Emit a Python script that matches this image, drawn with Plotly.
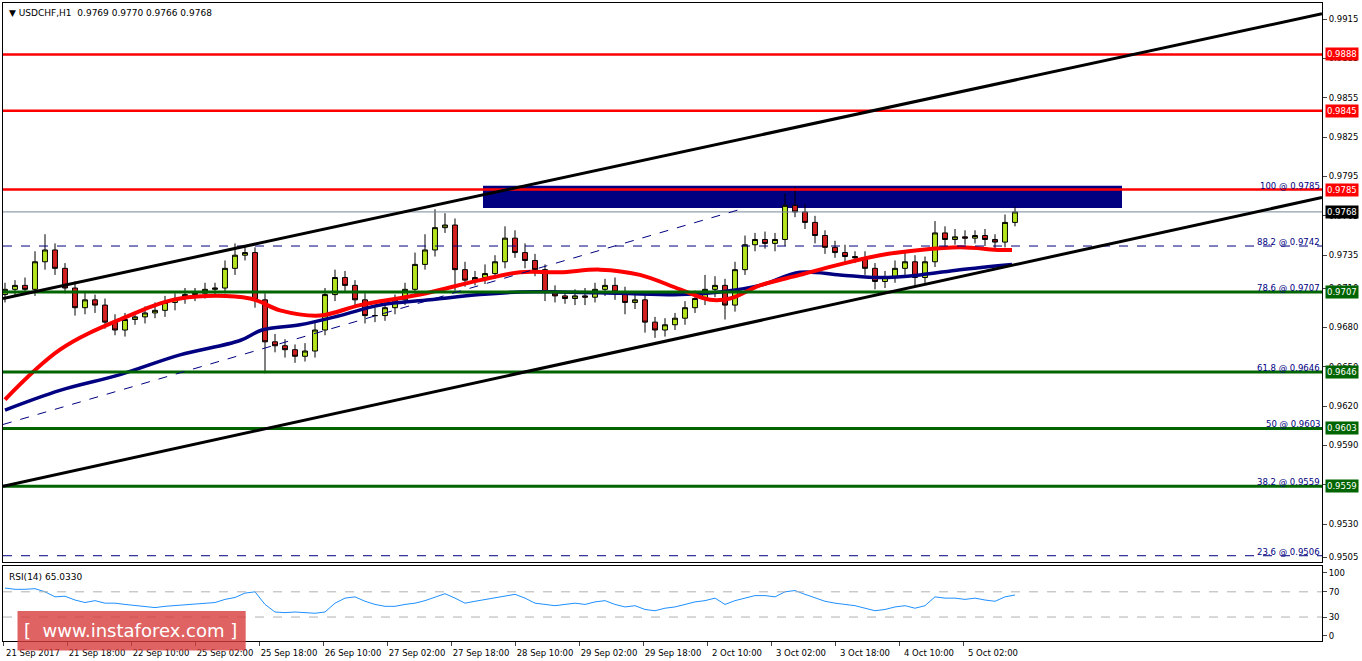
import plotly.graph_objects as go

# hourly USDCHF (one value every ~2.5 bars)
closes = [0.9709, 0.9712, 0.9709, 0.9730, 0.9739, 0.9725, 0.9710, 0.9695, 0.9701, 0.9697,
          0.9684, 0.9678, 0.9686, 0.9688, 0.9691, 0.9693, 0.9699, 0.9702, 0.9705, 0.9706,
          0.9709, 0.9710, 0.9725, 0.9735, 0.9737, 0.9701, 0.9669, 0.9666, 0.9663, 0.9658,
          0.9662, 0.9678, 0.9705, 0.9718, 0.9712, 0.9701, 0.9689, 0.9689, 0.9695, 0.9701,
          0.9709, 0.9728, 0.9739, 0.9756, 0.9758, 0.9724, 0.9716, 0.9718, 0.9721, 0.9730,
          0.9748, 0.9737, 0.9731, 0.9724, 0.9707, 0.9704, 0.9702, 0.9704, 0.9703, 0.9709,
          0.9712, 0.9707, 0.9699, 0.9701, 0.9684, 0.9678, 0.9682, 0.9687, 0.9695, 0.9702,
          0.9709, 0.9712, 0.9697, 0.9724, 0.9743, 0.9747, 0.9744, 0.9747, 0.9773, 0.9768,
          0.9760, 0.9750, 0.9741, 0.9737, 0.9734, 0.9733, 0.9725, 0.9715, 0.9718, 0.9725,
          0.9730, 0.9718, 0.9730, 0.9752, 0.9747, 0.9749, 0.9748, 0.9750, 0.9747, 0.9745,
          0.9760, 0.9768]
first_open = 0.9705
# wick sizes in pips above / below the body
wick_up = [5, 4, 6, 8, 12, 5, 4, 5, 6, 4, 5, 6, 5, 4, 5, 6, 5, 4, 5, 4,
           5, 4, 6, 9, 5, 4, 5, 6, 5, 4, 6, 7, 5, 6, 5, 4, 5, 6, 5, 4,
           5, 9, 12, 14, 9, 5, 6, 5, 7, 5, 9, 6, 7, 5, 4, 5, 4, 5, 6, 5,
           5, 6, 4, 5, 5, 4, 5, 4, 5, 6, 11, 7, 5, 6, 7, 5, 6, 5, 9, 14,
           6, 5, 4, 5, 6, 4, 5, 4, 5, 6, 7, 5, 4, 9, 5, 6, 5, 4, 5, 4,
           6, 4]
wick_dn = [6, 5, 4, 5, 6, 5, 4, 6, 5, 6, 5, 4, 5, 4, 5, 4, 5, 6, 4, 5,
           4, 5, 4, 5, 4, 6, 24, 5, 6, 5, 4, 5, 4, 5, 5, 5, 6, 5, 4, 5,
           4, 5, 4, 5, 4, 16, 5, 4, 5, 4, 5, 4, 6, 5, 7, 5, 4, 5, 6, 4,
           5, 6, 9, 5, 8, 6, 5, 4, 5, 4, 5, 6, 11, 5, 4, 5, 4, 6, 5, 4,
           5, 6, 5, 4, 5, 4, 5, 6, 5, 4, 5, 7, 5, 4, 5, 4, 5, 4, 5, 6,
           4, 3]

ma_fast_x = [0, 5.5, 11.5, 17.5, 24.5, 27.5, 31.5, 35.5, 41.5, 47.5, 51.5, 55.5, 59.5,
             63.5, 67.5, 70.5, 72.5, 75.5, 79.5, 83.5, 87.5, 91.5, 95.5, 99.5, 100.7]
ma_fast_y = [0.9625, 0.9663, 0.9686, 0.9702, 0.9702, 0.9693, 0.9689, 0.9697, 0.9705,
             0.9716, 0.9722, 0.9722, 0.9724, 0.9720, 0.9709, 0.9701, 0.9702, 0.9712,
             0.9720, 0.9728, 0.9735, 0.9739, 0.9741, 0.9739, 0.9739]
ma_slow_x = [0, 5.5, 11.5, 17.5, 23.5, 25.7, 29.5, 33.5, 37.5, 42.5, 47.5, 51.5, 55.5,
             61.5, 67.5, 71.5, 75.5, 79.5, 83.5, 87.5, 91.5, 95.5, 100.7]
ma_slow_y = [0.9617, 0.9632, 0.9644, 0.9659, 0.9670, 0.9678, 0.9682, 0.9689, 0.9697,
             0.9701, 0.9705, 0.9707, 0.9707, 0.9706, 0.9705, 0.9707, 0.9712, 0.9722,
             0.9720, 0.9718, 0.9720, 0.9724, 0.9728]

rsi = [76, 74, 74, 75, 70, 62, 63, 57, 53, 56, 52, 52, 50, 48, 46, 45, 47, 48, 49, 50,
       51, 53, 58, 61, 68, 70, 50, 38, 37, 38, 37, 36, 38, 52, 60, 62, 55, 50, 47, 47,
       50, 52, 56, 62, 67, 60, 52, 55, 58, 60, 64, 66, 60, 52, 50, 48, 50, 52, 50, 54,
       56, 50, 46, 48, 42, 40, 44, 46, 50, 54, 56, 60, 50, 56, 60, 64, 64, 62, 70, 72,
       66, 60, 55, 52, 50, 48, 44, 40, 42, 46, 48, 44, 48, 62, 60, 60, 58, 60, 57, 55,
       62, 65]

red_levels = [0.9888, 0.9845, 0.9785]
green_levels = [0.9707, 0.9646, 0.9603, 0.9559]
fib_labels = ["100 @ 0.9785", "88.2 @ 0.9742", "78.6 @ 0.9707", "61.8 @ 0.9646",
              "50 @ 0.9603", "38.2 @ 0.9559", "23.6 @ 0.9506"]
fib_levels = [0.9785, 0.9742, 0.9707, 0.9646, 0.9603, 0.9559, 0.9506]
price_ticks = [0.9915, 0.9885, 0.9855, 0.9825, 0.9795, 0.9765, 0.9735, 0.9710, 0.9680,
               0.9650, 0.9620, 0.9590, 0.9560, 0.9530, 0.9505]
time_labels = ["21 Sep 2017", "21 Sep 18:00", "22 Sep 10:00", "25 Sep 02:00", "25 Sep 18:00",
               "26 Sep 10:00", "27 Sep 02:00", "27 Sep 18:00", "28 Sep 10:00", "29 Sep 02:00",
               "29 Sep 18:00", "2 Oct 10:00", "3 Oct 02:00", "3 Oct 18:00", "4 Oct 10:00",
               "5 Oct 02:00"]

n = len(closes)
idx = list(range(n))
opens = [first_open] + closes[:-1]
highs = [max(o, c) + w * 0.0001 for o, c, w in zip(opens, closes, wick_up)]
lows = [min(o, c) - w * 0.0001 for o, c, w in zip(opens, closes, wick_dn)]
XR = [-0.2, 131.7]
YR = [0.95012, 0.99272]

fig = go.Figure()
fig.add_trace(go.Candlestick(x=idx, open=opens, high=highs, low=lows, close=closes,
                             increasing=dict(line=dict(color="black", width=1), fillcolor="#b5e61d"),
                             decreasing=dict(line=dict(color="black", width=1), fillcolor="#d42020"),
                             whiskerwidth=0, xaxis="x", yaxis="y", showlegend=False))
fig.add_trace(go.Scatter(x=ma_slow_x, y=ma_slow_y, mode="lines", line=dict(color="#000080", width=3.5, shape="spline"),
                         showlegend=False))
fig.add_trace(go.Scatter(x=ma_fast_x, y=ma_fast_y, mode="lines", line=dict(color="#ff0000", width=4, shape="spline"),
                         showlegend=False))
fig.add_trace(go.Scatter(x=idx, y=rsi, mode="lines", line=dict(color="#1e90ff", width=1),
                         xaxis="x2", yaxis="y2", showlegend=False))

shapes = []
shapes.append(dict(type="rect", x0=47.8, x1=111.7, y0=0.9771, y1=0.9788, fillcolor="#000080",
                   line=dict(width=0), layer="below"))
for lv in red_levels:
    shapes.append(dict(type="line", x0=XR[0], x1=XR[1], y0=lv, y1=lv, line=dict(color="#ff0000", width=2.5)))
for lv in green_levels:
    shapes.append(dict(type="line", x0=XR[0], x1=XR[1], y0=lv, y1=lv, line=dict(color="#006400", width=3)))
for lv in [0.9742, 0.9506]:
    shapes.append(dict(type="line", x0=XR[0], x1=XR[1], y0=lv, y1=lv, line=dict(color="#000080", width=1, dash="dash")))
shapes.append(dict(type="line", x0=XR[0], x1=XR[1], y0=0.9768, y1=0.9768, line=dict(color="#778899", width=1)))
shapes.append(dict(type="line", x0=-0.2, x1=131.7, y0=0.9702, y1=0.9919, line=dict(color="black", width=3)))
shapes.append(dict(type="line", x0=-0.2, x1=131.7, y0=0.9559, y1=0.9779, line=dict(color="black", width=3)))
shapes.append(dict(type="line", x0=-0.2, x1=74, y0=0.9606, y1=0.9771, line=dict(color="#000080", width=1, dash="dash")))
for lv in [70, 30]:
    shapes.append(dict(type="line", xref="x2", yref="y2", x0=XR[0], x1=XR[1], y0=lv, y1=lv,
                       line=dict(color="#b0b0b0", width=1, dash="dash")))
# watermark
shapes.append(dict(type="rect", xref="paper", yref="paper", x0=0.011, x1=0.184, y0=-0.015, y1=0.047,
                   fillcolor="rgba(215,60,60,0.8)", line=dict(width=0)))

ann = []
ann.append(dict(text="▼ USDCHF,H1  0.9769 0.9770 0.9766 0.9768", xref="paper", yref="paper", x=0.003, y=0.995,
                xanchor="left", yanchor="top", showarrow=False, font=dict(size=9, color="black")))
ann.append(dict(text="RSI(14) 65.0330", xref="paper", yref="paper", x=0.003, y=0.112,
                xanchor="left", yanchor="top", showarrow=False, font=dict(size=9, color="black")))
ann.append(dict(text="[  www.instaforex.com ]", xref="paper", yref="paper", x=0.097, y=0.016,
                xanchor="center", yanchor="middle", showarrow=False, font=dict(size=18, color="white")))
for lab, lv in zip(fib_labels, fib_levels):
    ann.append(dict(text=lab, x=XR[1], y=lv, xanchor="right", yanchor="bottom", showarrow=False,
                    font=dict(size=8.5, color="#000080"), yshift=-3))
for lv, col in [(l, "#ff0000") for l in red_levels] + [(0.9768, "black")] + [(l, "#006400") for l in green_levels]:
    ann.append(dict(text=f"{lv:.4f}", xref="paper", x=1.0, y=lv, xanchor="left", yanchor="middle",
                    showarrow=False, bgcolor=col, font=dict(size=8.5, color="white"), borderpad=1, xshift=3))

fig.update_layout(
    width=1362, height=661, margin=dict(l=3, r=40, t=3, b=20, autoexpand=False),
    paper_bgcolor="white", plot_bgcolor="white", font=dict(family="DejaVu Sans", size=8.5, color="black"),
    shapes=shapes, annotations=ann,
    xaxis=dict(domain=[0, 1], range=XR, anchor="y", showticklabels=False, showgrid=False, zeroline=False,
               rangeslider=dict(visible=False), showline=True, mirror=True, linecolor="black", ticks="",
               automargin=False),
    yaxis=dict(domain=[0.1238, 1], range=YR, side="right", tickvals=price_ticks,
               ticktext=[f"{t:.4f}" for t in price_ticks], ticks="outside", ticklen=4, showgrid=False,
               zeroline=False, showline=True, mirror=True, linecolor="black", automargin=False),
    xaxis2=dict(domain=[0, 1], range=XR, anchor="y2", showgrid=False, zeroline=False,
                tickvals=[(-2 + 64 * k) / 10 for k in range(len(time_labels))], ticktext=time_labels,
                ticks="outside", ticklen=4, ticklabelshift=30, showline=True, mirror=True, linecolor="black",
                automargin=False),
    yaxis2=dict(domain=[0, 0.1176], range=[-8, 111], side="right", tickvals=[100, 70, 30, 0],
                ticks="outside", ticklen=4, showgrid=False, zeroline=False, showline=True, mirror=True,
                linecolor="black", automargin=False),
)
fig.write_html("out.html", config={"displayModeBar": False},
               post_script="document.body.style.margin='0';")
